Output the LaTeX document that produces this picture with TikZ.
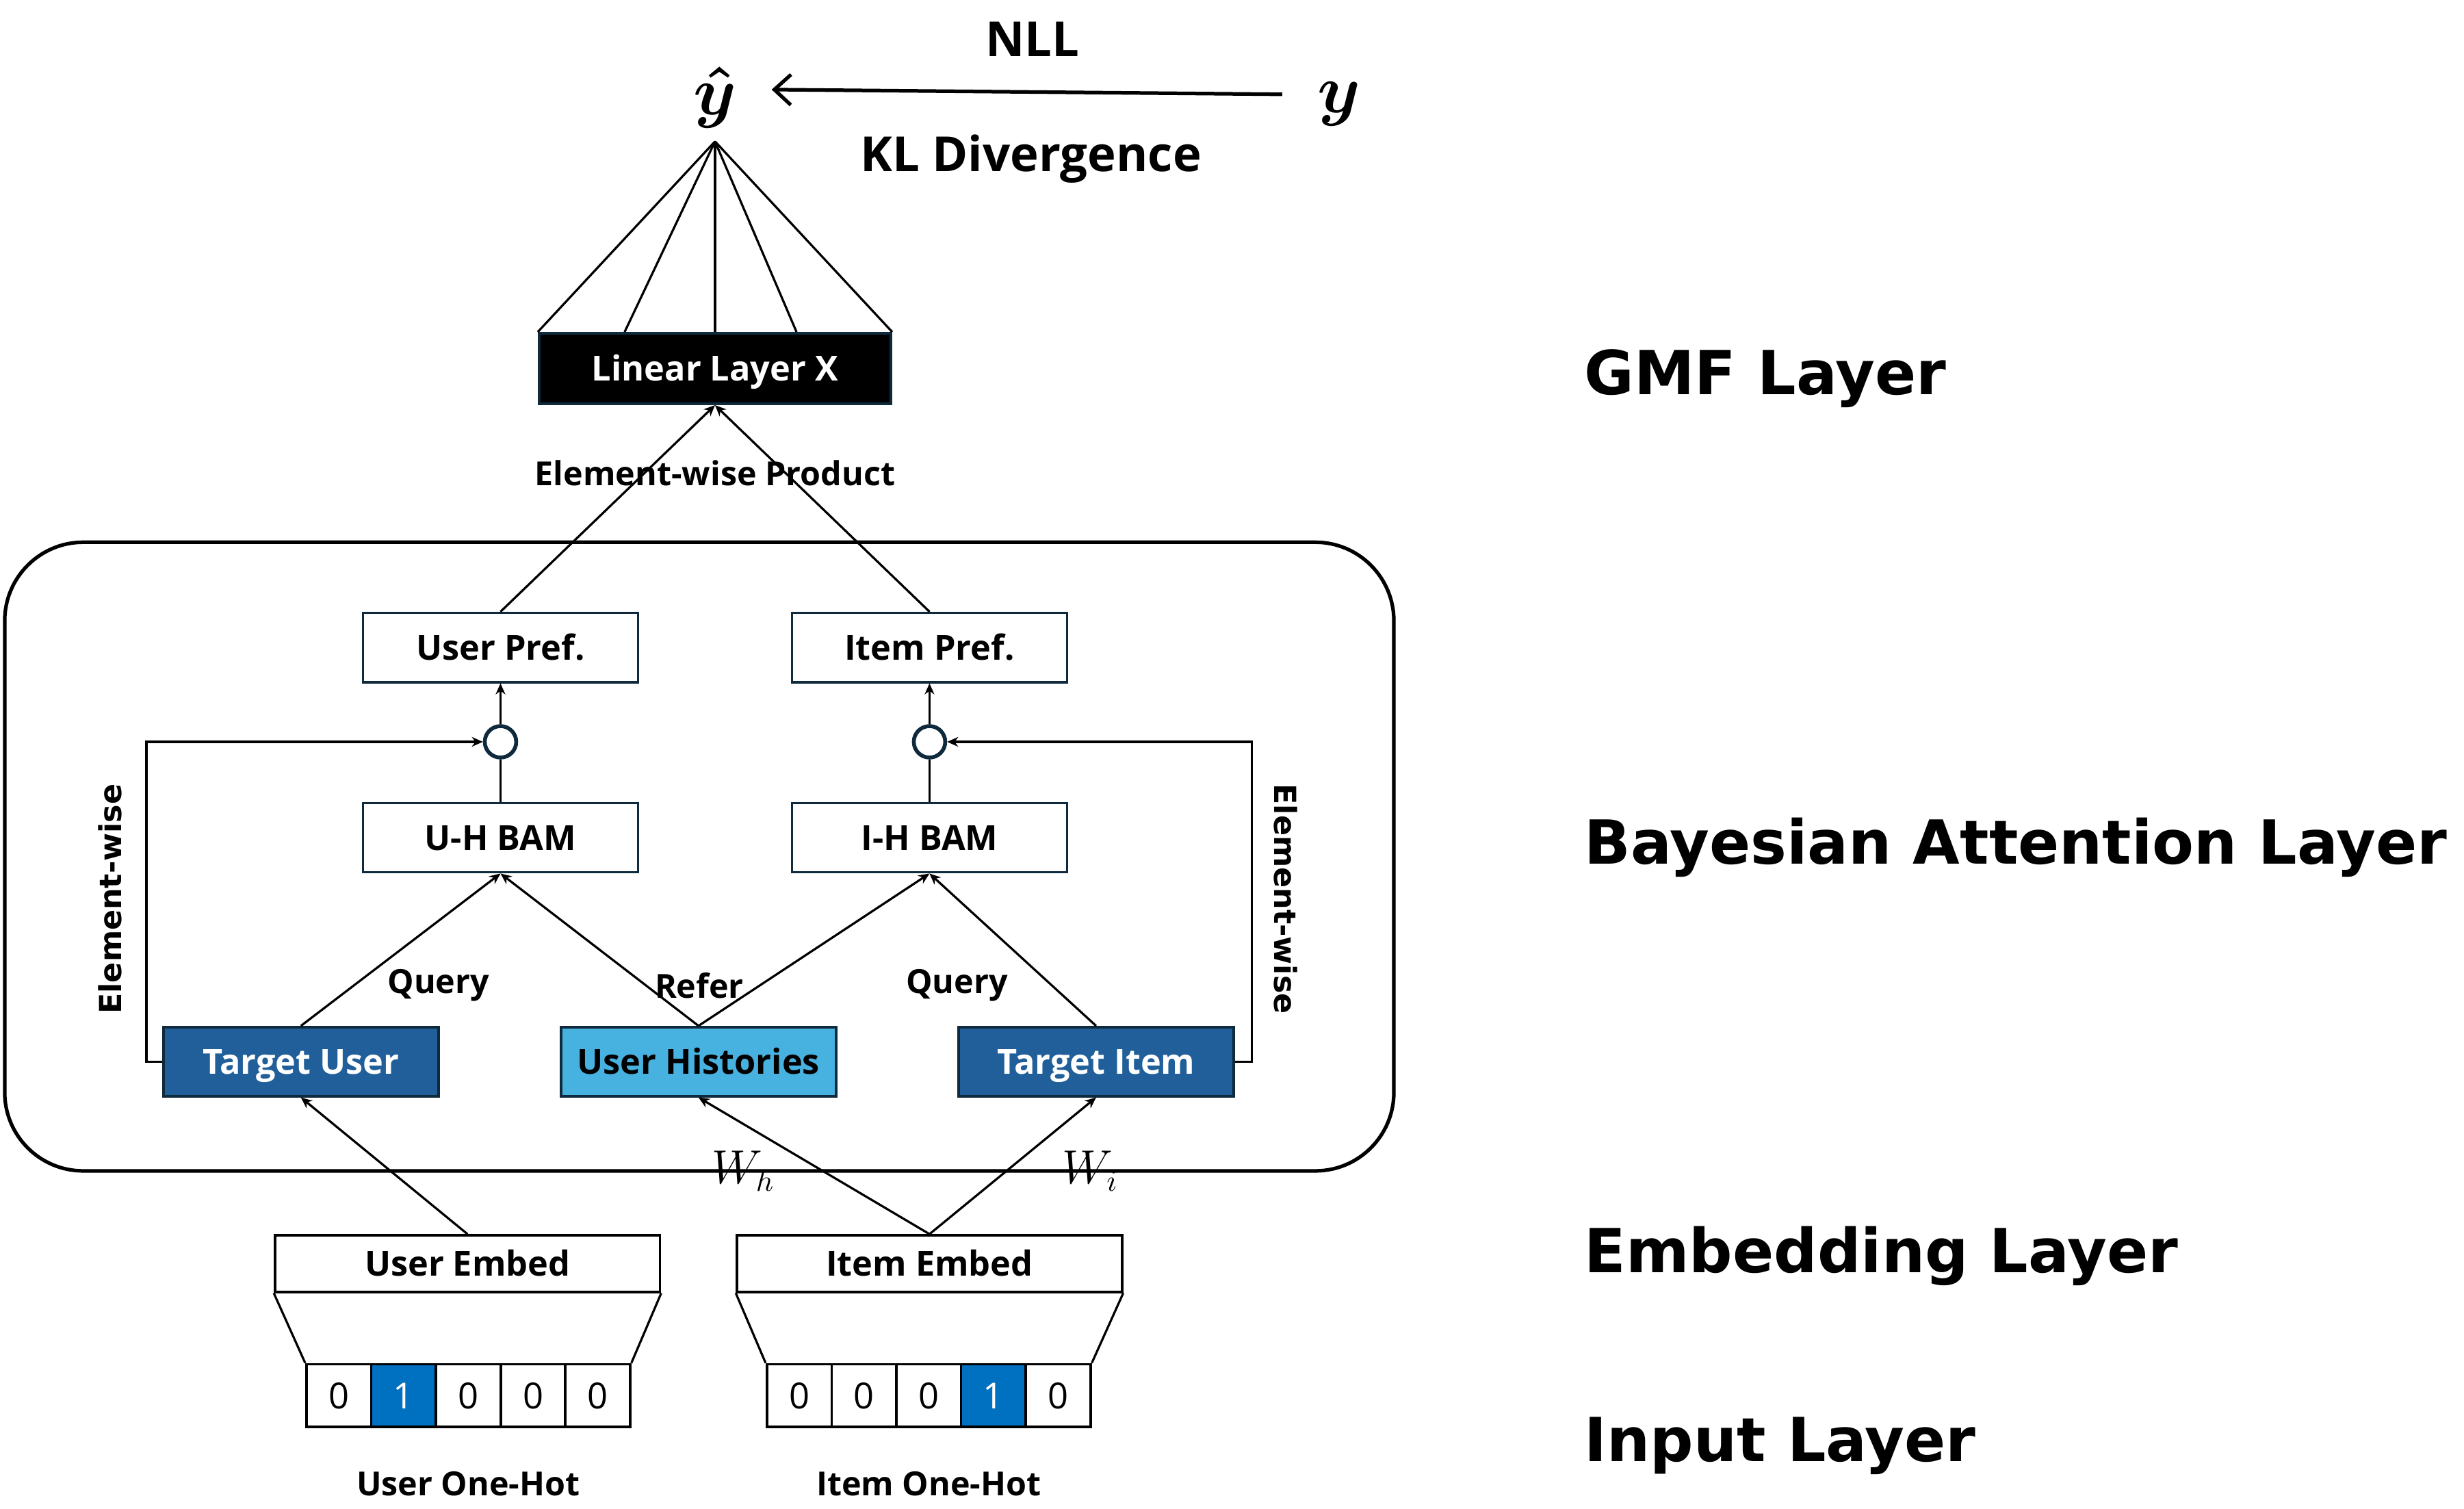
\documentclass[tikz,border=0pt]{standalone}
\usepackage{fontspec}
\usepackage{amsmath}
\setmainfont{Open Sans}
\newfontfamily\layerfont{DejaVu Sans}
\usetikzlibrary{arrows.meta, positioning, calc}

\definecolor{navy}{HTML}{0E2A3C}
\definecolor{darkblue}{HTML}{215F9A}
\definecolor{lightblue}{HTML}{47B1E0}
\definecolor{hotblue}{HTML}{0070C0}

\begin{document}
\begin{tikzpicture}[x=0.02cm, y=-0.02cm, >={Stealth[length=4pt,width=3.5pt]},
    box/.style={draw=navy, line width=0.9pt, minimum width=3.5cm, minimum height=0.88cm, inner sep=0pt, text height=11pt, text depth=2pt, font=\fontsize{12.5}{15}\selectfont\bfseries},
    embbox/.style={draw=black, line width=0.9pt, minimum width=4.9cm, minimum height=0.72cm, inner sep=0pt, text height=11pt, text depth=2pt, font=\fontsize{12.5}{15}\selectfont\bfseries},
    cell/.style={draw=black, line width=0.9pt, minimum width=0.824cm, minimum height=0.8cm, inner sep=0pt, font=\fontsize{13}{15}\selectfont},
    hotcell/.style={cell, fill=hotblue, text=white},
    lbl/.style={font=\fontsize{12}{14}\selectfont\bfseries, inner sep=1pt},
    sidelbl/.style={font=\layerfont\fontsize{11}{13}\selectfont\bfseries, inner sep=1pt},
    layer/.style={anchor=west, inner sep=0pt, font=\layerfont\fontsize{22}{26}\selectfont\bfseries},
    link/.style={line width=0.8pt}]

    \useasboundingbox (0,0) rectangle (1568,960);

    % Define variables
    \def\CellW{41.2}
    \def\RowY{888}

    % Output and loss
    \node[inner sep=0pt, font=\fontsize{26}{30}\selectfont] (yhat) at (455,62) {$\boldsymbol{\hat{y}}$};
    \node[inner sep=0pt, font=\fontsize{26}{30}\selectfont] (y) at (852,66) {$\boldsymbol{y}$};
    \node[font=\fontsize{17.5}{22}\selectfont\bfseries] (nll) at (657,25) {NLL};
    \node[font=\fontsize{17.5}{22}\selectfont\bfseries] (kl) at (656,101) {KL Divergence};
    \draw[line width=1.3pt, -{Straight Barb[length=6pt,width=11pt]}] ($(y.west)+(-22,-6)$) -- ($(yhat.east)+(22,-5)$);

    % GMF layer
    \node[box, fill=black, text=white, minimum width=4.48cm, minimum height=0.9cm] (lin) at (455,234.5) {Linear Layer X};
    \coordinate (apex) at (455,90);
    \foreach \f in {0,0.245,0.5,0.73,1}
        \draw[link] (apex) -- ($(lin.north west)!\f!(lin.north east)$);
    \node[lbl] (prod) at (455,301) {Element-wise Product};

    % Bayesian attention frame
    \draw[line width=1.3pt, rounded corners=1cm] (3,345) rectangle (887,745);

    \node[box] (up) at (318.5,412) {User Pref.};
    \node[box] (ip) at (591.5,412) {Item Pref.};
    \node[circle, draw=navy, line width=1.4pt, minimum size=0.4cm, inner sep=0pt] (cu) at (318.5,472) {};
    \node[circle, draw=navy, line width=1.4pt, minimum size=0.4cm, inner sep=0pt] (ci) at (591.5,472) {};
    \node[box] (uh) at (318.5,533) {U-H BAM};
    \node[box] (ih) at (591.5,533) {I-H BAM};
    \node[box, fill=darkblue, text=white] (tu) at (191.5,675.5) {Target User};
    \node[box, fill=lightblue] (hist) at (444.5,675.5) {User Histories};
    \node[box, fill=darkblue, text=white] (ti) at (697.5,675.5) {Target Item};

    \draw[link, ->] (up.north) -- (lin.south);
    \draw[link, ->] (ip.north) -- (lin.south);
    \draw[link, ->] (cu.north) -- (up.south);
    \draw[link, ->] (ci.north) -- (ip.south);
    \draw[link] (uh.north) -- (cu.south);
    \draw[link] (ih.north) -- (ci.south);
    \draw[link, ->] (tu.north) -- (uh.south);
    \draw[link, ->] (hist.north) -- (uh.south);
    \draw[link, ->] (hist.north) -- (ih.south);
    \draw[link, ->] (ti.north) -- (ih.south);

    % Element-wise feedback
    \draw[link, ->] (tu.west) -- ++(-10,0) |- (cu.west);
    \draw[link, ->] (ti.east) -- ++(11,0) |- (ci.east);
    \node[sidelbl, rotate=90] (ewl) at (70,572) {Element-wise};
    \node[sidelbl, rotate=-90] (ewr) at (818,572) {Element-wise};

    \node[lbl] (q1) at (279,627) {Query};
    \node[lbl] (rf) at (445,627) {Refer};
    \node[lbl] (q2) at (609,627) {Query};

    % Embedding layer
    \node[embbox] (ue) at (297.5,804) {User Embed};
    \node[embbox] (ie) at (591.5,804) {Item Embed};
    \draw[link, ->] (ue.north) -- (tu.south);
    \draw[link, ->] (ie.north) -- (hist.south);
    \draw[link, ->] (ie.north) -- (ti.south);
    \node[inner sep=0pt, font=\fontsize{16}{18}\selectfont] (wh) at (473,745) {$W_h$};
    \node[inner sep=0pt, font=\fontsize{16}{18}\selectfont] (wi) at (694,745) {$W_i$};

    % Input layer
    \foreach \d/\s [count=\i] in {0/cell,1/hotcell,0/cell,0/cell,0/cell}
        \node[\s] (u\i) at ({195+\CellW/2+(\i-1)*\CellW},\RowY) {\d};
    \foreach \d/\s [count=\i] in {0/cell,0/cell,0/cell,1/hotcell,0/cell}
        \node[\s] (it\i) at ({488+\CellW/2+(\i-1)*\CellW},\RowY) {\d};
    \draw[link] (ue.south west) -- (u1.north west);
    \draw[link] (ue.south east) -- (u5.north east);
    \draw[link] (ie.south west) -- (it1.north west);
    \draw[link] (ie.south east) -- (it5.north east);
    \node[lbl] (uoh) at (298,944) {User One-Hot};
    \node[lbl] (ioh) at (591,944) {Item One-Hot};

    % Layer names
    \node[layer] (gmf) at (1008,241) {GMF Layer};
    \node[layer] (bal) at (1008,539) {Bayesian Attention Layer};
    \node[layer] (eml) at (1008,799) {Embedding Layer};
    \node[layer] (inl) at (1008,920) {Input Layer};

\end{tikzpicture}
\end{document}
